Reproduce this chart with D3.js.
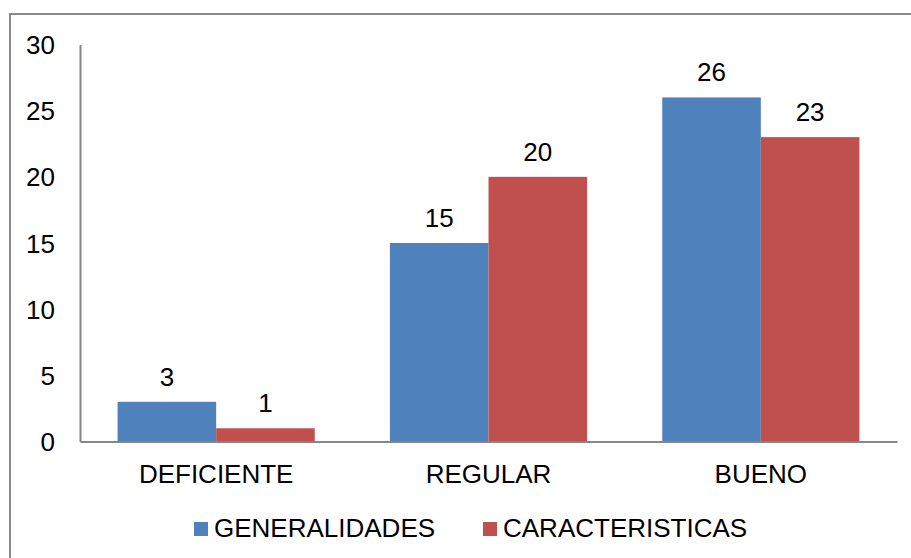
<!DOCTYPE html>
<html>
<head>
<meta charset="utf-8">
<script src="https://cdn.jsdelivr.net/npm/d3@7"></script>
<style>
  body { margin: 0; background: #fff; }
  text { font-family: "Liberation Sans", Arial, sans-serif; fill: #000; }
</style>
</head>
<body>
<div id="chart"></div>
<script>
// datos
const categorias = ["DEFICIENTE", "REGULAR", "BUENO"];
const series = ["GENERALIDADES", "CARACTERISTICAS"];
const generalidades = [3, 15, 26];
const caracteristicas = [1, 20, 23];
const ticksY = [0, 5, 10, 15, 20, 25, 30];

const colores = { "GENERALIDADES": "#4F81BD", "CARACTERISTICAS": "#C0504D" };

const W = 911, H = 558;
const margin = { top: 44.5, right: 14, bottom: 116.5, left: 80 };
const width = W - margin.left - margin.right,
    height = H - margin.top - margin.bottom;
const fuente = "26px";

const svg = d3.select("#chart").append("svg")
    .attr("width", W)
    .attr("height", H);

// borde del área
svg.append("rect")
    .attr("x", 10).attr("y", 14)
    .attr("width", 910).attr("height", 560)
    .attr("fill", "none")
    .attr("stroke", "#898989")
    .attr("stroke-width", 2);

const g = svg.append("g")
    .attr("transform", `translate(${margin.left},${margin.top})`);

const x0 = d3.scaleBand().domain(categorias).range([0, width]).paddingInner(0.276).paddingOuter(0.138);
const x1 = d3.scaleBand().domain(series).range([0, x0.bandwidth()]);
const y = d3.scaleLinear().domain([0, 30]).range([height, 0]);

const datos = categorias.map((c, i) => ({
    cat: c,
    vals: [
        { s: "GENERALIDADES", v: generalidades[i] },
        { s: "CARACTERISTICAS", v: caracteristicas[i] }
    ]
}));

// barras
const grupos = g.selectAll(".grupo")
    .data(datos)
    .enter().append("g")
    .attr("class", "grupo")
    .attr("transform", d => `translate(${x0(d.cat)},0)`);

grupos.selectAll("rect")
    .data(d => d.vals)
    .enter().append("rect")
    .attr("x", d => x1(d.s))
    .attr("y", d => y(d.v))
    .attr("width", x1.bandwidth())
    .attr("height", d => height - y(d.v))
    .attr("fill", d => colores[d.s]);

// etiquetas de valor
grupos.selectAll(".valor")
    .data(d => d.vals)
    .enter().append("text")
    .attr("class", "valor")
    .attr("x", d => x1(d.s) + x1.bandwidth() / 2)
    .attr("y", d => y(d.v) - 16)
    .attr("text-anchor", "middle")
    .attr("font-size", fuente)
    .text(d => d.v);

// eje Y
const ejeY = g.append("g")
    .call(d3.axisLeft(y).tickValues(ticksY).tickSize(0).tickPadding(25));
ejeY.select(".domain").attr("stroke", "#868686").attr("stroke-width", 2);
ejeY.selectAll("text").attr("font-size", fuente).attr("dy", "0.35em")
    .style("font-family", "Liberation Sans, Arial, sans-serif");

// eje X
const ejeX = g.append("g")
    .attr("transform", `translate(0,${height})`)
    .call(d3.axisBottom(x0).tickSize(0).tickPadding(23));
ejeX.select(".domain").attr("stroke", "#868686").attr("stroke-width", 2);
ejeX.selectAll("text").attr("font-size", fuente)
    .style("font-family", "Liberation Sans, Arial, sans-serif");

// leyenda
const leyenda = svg.append("g");
const posLeyenda = [194, 483];
series.forEach((s, i) => {
    leyenda.append("rect")
        .attr("x", posLeyenda[i]).attr("y", 522)
        .attr("width", 14).attr("height", 14)
        .attr("fill", colores[s]);
    leyenda.append("text")
        .attr("x", posLeyenda[i] + 20).attr("y", 536.5)
        .attr("font-size", fuente)
        .text(s);
});
</script>
</body>
</html>
